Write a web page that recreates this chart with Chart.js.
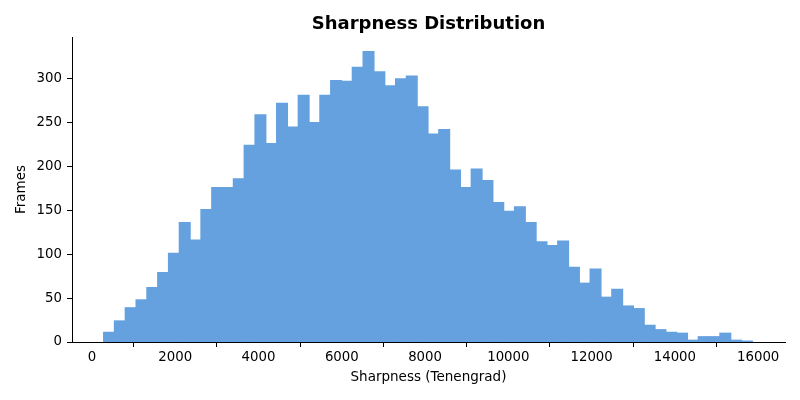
<!DOCTYPE html>
<html>
<head>
<meta charset="utf-8">
<script src="https://cdn.jsdelivr.net/npm/chart.js@4"></script>
<style>
  body { margin: 0; background: #fff; }
</style>
</head>
<body>
<canvas id="sharpChart" width="800" height="400"></canvas>
<script>
// histogram bins (Tenengrad sharpness)
const binStart = 280;
const binWidth = 259.67;
const counts = [
    11, 24, 39, 48, 62, 79, 101, 136, 116, 151,
    176, 176, 186, 224, 259, 226, 272, 245, 281, 250,
    281, 298, 297, 313, 331, 308, 292, 300, 303, 268,
    237, 242, 196, 176, 197, 184, 159, 149, 154, 136,
    114, 110, 115, 85, 67, 83, 51, 60, 41, 38,
    19, 14, 11, 10, 2, 6, 6, 10, 2, 1
];
const xTicks = [0, 2000, 4000, 6000, 8000, 10000, 12000, 14000, 16000];
const yTicks = [0, 50, 100, 150, 200, 250, 300];

Chart.defaults.font.family = 'DejaVu Sans';
Chart.defaults.color = '#000';

const bins = counts.map((c, i) => ({ x: binStart + binWidth * (i + 0.5), y: c }));

// title centred over the plot area, like matplotlib
const titlePlugin = {
    id: 'plotTitle',
    afterDraw(chart) {
        const { ctx, chartArea } = chart;
        ctx.save();
        ctx.font = 'bold 18px "DejaVu Sans"';
        ctx.fillStyle = '#000';
        ctx.textAlign = 'center';
        ctx.textBaseline = 'alphabetic';
        ctx.fillText('Sharpness Distribution', (chartArea.left + chartArea.right) / 2, 29);
        ctx.restore();
    }
};

const ctx = document.getElementById('sharpChart');

new Chart(ctx, {
    type: 'bar',
    data: {
        datasets: [{
            label: 'Frames',
            data: bins,
            // #4a90d9 at 0.85 alpha over white, kept opaque so bars don't show seams
            backgroundColor: 'rgb(101, 161, 223)',
            borderWidth: 0,
            inflateAmount: 0.6,
            barPercentage: 1,
            categoryPercentage: 1,
            grouped: false
        }]
    },
    options: {
        responsive: false,
        animation: false,
        layout: {
            padding: { top: 37, right: 15, left: 0, bottom: 0 }
        },
        plugins: {
            legend: { display: false },
            tooltip: { enabled: false }
        },
        scales: {
            x: {
                type: 'linear',
                min: -480,
                max: 16645,
                offset: false,
                afterBuildTicks: (scale) => { scale.ticks = xTicks.map(v => ({ value: v })); },
                afterFit: (scale) => { scale.height = 58; },
                ticks: {
                    font: { size: 13.3 },
                    padding: 3,
                    maxRotation: 0,
                    callback: (v) => String(v)
                },
                grid: {
                    drawOnChartArea: false,
                    tickLength: 5,
                    color: '#000'
                },
                border: { color: '#000', width: 1 },
                title: {
                    display: true,
                    text: 'Sharpness (Tenengrad)',
                    font: { size: 13.5 },
                    padding: { top: 0, bottom: 14 }
                }
            },
            y: {
                min: 0,
                max: 347.6,
                afterBuildTicks: (scale) => { scale.ticks = yTicks.map(v => ({ value: v })); },
                afterFit: (scale) => { scale.width = 72; },
                ticks: {
                    font: { size: 13.3 },
                    padding: 5,
                    callback: (v) => String(v)
                },
                grid: {
                    drawOnChartArea: false,
                    tickLength: 5,
                    color: '#000'
                },
                border: { color: '#000', width: 1 },
                title: {
                    display: true,
                    text: 'Frames',
                    font: { size: 13.5 },
                    padding: { top: 13, bottom: 0 }
                }
            }
        }
    },
    plugins: [titlePlugin]
});
</script>
</body>
</html>
